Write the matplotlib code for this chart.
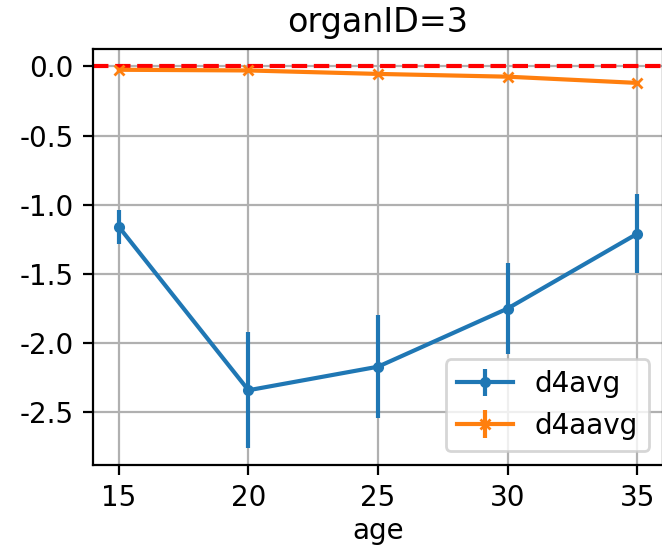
import matplotlib
matplotlib.use("Agg")
import matplotlib.pyplot as plt

age = [15, 20, 25, 30, 35]
d4avg = [-1.16, -2.34, -2.17, -1.75, -1.21]
d4avg_err = [0.125, 0.42, 0.37, 0.33, 0.285]
d4aavg = [-0.025, -0.03, -0.055, -0.075, -0.12]
d4aavg_err = [0.008, 0.008, 0.008, 0.008, 0.008]

DPI = 200
fig = plt.figure(figsize=(662 / DPI, 548 / DPI), dpi=DPI)
ax = fig.add_axes([93 / 662, (548 - 465) / 548, (663 - 93) / 662, (465 - 49) / 548])

ax.errorbar(age, d4avg, yerr=d4avg_err, marker='.', label='d4avg', color='#1f77b4')
ax.errorbar(age, d4aavg, yerr=d4aavg_err, marker='x', markersize=3.5, label='d4aavg', color='#ff7f0e')
ax.axhline(0, color='red', linestyle='--')

ax.set_xlim(14, 36)
ax.set_ylim(-2.88, 0.125)
ax.set_xticks(age)
ax.set_yticks([0.0, -0.5, -1.0, -1.5, -2.0, -2.5])
ax.set_yticklabels(['0.0', '-0.5', '-1.0', '-1.5', '-2.0', '-2.5'])
ax.grid(True)
ax.set_xlabel('age', labelpad=1.5)
ax.set_title('organID=3')
ax.legend(loc='lower right')

fig.savefig('out.png', dpi=DPI)
